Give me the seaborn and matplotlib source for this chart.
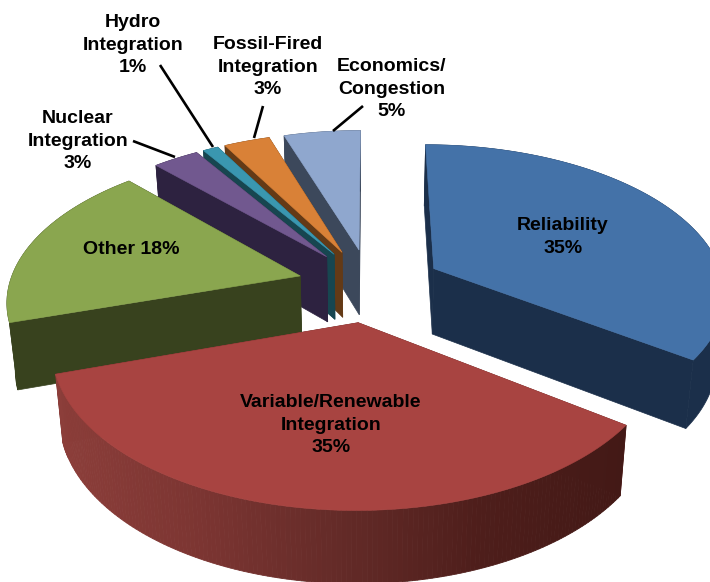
import numpy as np
import matplotlib
matplotlib.use("Agg")
import matplotlib.pyplot as plt
from matplotlib.colors import LinearSegmentedColormap
import seaborn as sns

categories = ["Reliability", "Variable/Renewable Integration", "Other",
              "Nuclear Integration", "Hydro Integration",
              "Fossil-Fired Integration", "Economics/Congestion"]
shares = [35, 35, 18, 3, 1, 3, 5]
top_colors = ["#4472A8", "#A84441", "#8AA64F", "#71588F", "#3A97B0", "#D98137", "#8FA7CE"]
side_colors = ["#1B2F4A", "#6B2C29", "#38421E", "#2D2240", "#174650", "#643A16", "#3C485B"]
red_rim_stops = ["#8C3E3A", "#7C3532", "#642B28", "#4E1E1B", "#431916"]

sns.set_theme(style="white")
plt.rcParams["font.family"] = ["Liberation Sans", "DejaVu Sans"]

CX, CY, SX, SY, PERSP = 370.0, 285.0, 291.0, 147.0, 0.15
EXPLODE, DEPTH, BOTTOM_SCALE = 0.25, 66.0, 0.977


def project(x, y):
    g = 1.0 / (1.0 + PERSP * y)
    return CX + SX * x * g, CY - SY * y * g, g


def lower(px, py, g):
    return CX + (px - CX) * BOTTOM_SCALE, py + DEPTH * np.sqrt(g)


fig = plt.figure(figsize=(7.1, 5.82), dpi=100)
ax = fig.add_axes([0, 0, 1, 1])
ax.set_xlim(0, 710)
ax.set_ylim(582, 0)
ax.axis("off")

edges = 90.0 - np.cumsum([0] + shares) * 3.6
wedges = []
for i, share in enumerate(shares):
    a0, a1 = np.radians(edges[i]), np.radians(edges[i + 1])
    mid = (a0 + a1) / 2
    ox, oy = EXPLODE * np.cos(mid), EXPLODE * np.sin(mid)
    wedges.append((i, a0, a1, ox, oy))

rim_map = LinearSegmentedColormap.from_list("rim", red_rim_stops)
draw_order = [6, 5, 4, 3, 2, 0, 1]
for i in draw_order:
    _, a0, a1, ox, oy = wedges[i]
    th = np.linspace(a0, a1, max(8, int(abs(a1 - a0) * 70)))
    rx, ry, rg = project(ox + np.cos(th), oy + np.sin(th))
    ax_, ay_, ag_ = project(ox, oy)
    bx, by = lower(rx, ry, rg)
    bax, bay = lower(ax_, ay_, ag_)
    side = side_colors[i]
    z0 = draw_order.index(i) * 3
    for k in (0, -1):
        ax.fill([ax_, rx[k], bx[k], bax], [ay_, ry[k], by[k], bay],
                color=side, lw=0.5, zorder=z0)
    z = z0 + 1
    if i == 1:
        xmin, xmax = rx.min(), rx.max()
        for k in range(len(th) - 1):
            t = (rx[k] - xmin) / (xmax - xmin)
            ax.fill([rx[k], rx[k + 1], bx[k + 1], bx[k]],
                    [ry[k], ry[k + 1], by[k + 1], by[k]],
                    color=rim_map(t), lw=0.6, zorder=z)
    else:
        ax.fill(np.r_[rx, bx[::-1]], np.r_[ry, by[::-1]], color=side, lw=0.5, zorder=z)
    ax.fill(np.r_[ax_, rx], np.r_[ay_, ry], color=top_colors[i], lw=0.4, zorder=z + 1)

labels = [
    ("Reliability\n35%", 563, 237),
    ("Variable/Renewable\nIntegration\n35%", 331, 425),
    ("Other 18%", 131, 249),
    ("Nuclear\nIntegration\n3%", 78, 141),
    ("Hydro\nIntegration\n1%", 133, 45),
    ("Fossil-Fired\nIntegration\n3%", 268, 67),
    ("Economics/\nCongestion\n5%", 392, 89),
]
for txt, x, y in labels:
    ax.text(x, y, txt, ha="center", va="center", fontsize=14.0, fontweight="bold",
            color="black", linespacing=1.42, zorder=60)

leaders = [((133, 141), (175, 157)), ((160, 65), (213, 147)),
           ((263, 106), (254, 138)), ((363, 106), (333, 131))]
for (x0, y0), (x1, y1) in leaders:
    ax.plot([x0, x1], [y0, y1], color="black", lw=1.9, solid_capstyle="butt", zorder=50)

fig.savefig("out.png", dpi=100, facecolor="white")
